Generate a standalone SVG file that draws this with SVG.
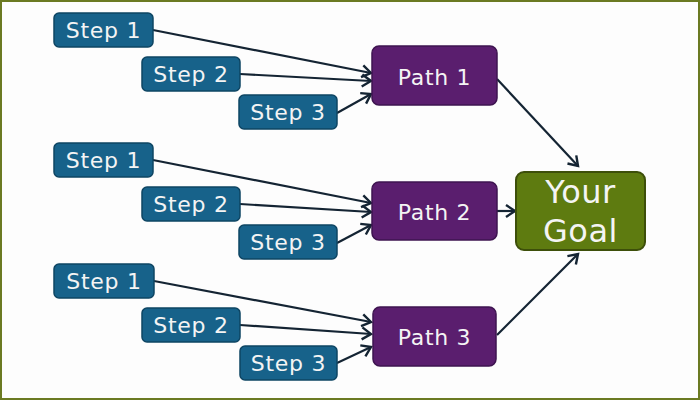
<svg xmlns="http://www.w3.org/2000/svg" width="700" height="400" viewBox="0 0 700 400">
<defs>
<marker id="ah" markerUnits="userSpaceOnUse" markerWidth="16" markerHeight="16" refX="13" refY="8" orient="auto">
<polyline points="4,2 13,8 4,14" fill="none" stroke="#142433" stroke-width="2.4" stroke-linejoin="miter"/>
</marker>
<style>
.step rect{fill:#17628a;stroke:#0e4563;stroke-width:1.5}
.path rect{fill:#5a1e6e;stroke:#3e1450;stroke-width:1.5}
.goal rect{fill:#5e7b10;stroke:#3d4f0a;stroke-width:2}
text{font-family:"DejaVu Sans","Verdana",sans-serif;fill:#f4f4f4;text-anchor:middle}
.step text,.path text{font-size:22px;letter-spacing:0.7px}
.goal text{font-size:32px;letter-spacing:0.5px}
#connectors line{stroke:#142433;stroke-width:2.2;marker-end:url(#ah)}
</style>
</defs>
<rect x="0" y="0" width="700" height="400" fill="#fdfdfd"/>
<rect x="1" y="1" width="698" height="398" fill="none" stroke="#6b7a22" stroke-width="2"/>

<g id="connectors">
<line x1="153" y1="30" x2="371" y2="73"/>
<line x1="240" y1="74" x2="371" y2="81"/>
<line x1="337" y1="113" x2="371" y2="94"/>
<line x1="153" y1="160" x2="371" y2="203"/>
<line x1="240" y1="204" x2="371" y2="212"/>
<line x1="337" y1="243" x2="371" y2="225"/>
<line x1="154" y1="281" x2="371" y2="322"/>
<line x1="240" y1="325" x2="371" y2="334"/>
<line x1="337" y1="363" x2="371" y2="347"/>
<line x1="497" y1="79" x2="578" y2="166"/>
<line x1="497" y1="211" x2="515" y2="211"/>
<line x1="497" y1="335" x2="578" y2="254"/>
</g>

<g id="g1-step1" class="step"><rect x="54" y="13" width="99" height="34" rx="5"/><text x="103.5" y="38">Step 1</text></g>
<g id="g1-step2" class="step"><rect x="142" y="57" width="98" height="34" rx="5"/><text x="191" y="82">Step 2</text></g>
<g id="g1-step3" class="step"><rect x="239" y="95" width="98" height="34" rx="5"/><text x="288" y="120">Step 3</text></g>

<g id="g2-step1" class="step"><rect x="54" y="143" width="99" height="34" rx="5"/><text x="103.5" y="168">Step 1</text></g>
<g id="g2-step2" class="step"><rect x="142" y="187" width="98" height="34" rx="5"/><text x="191" y="212">Step 2</text></g>
<g id="g2-step3" class="step"><rect x="239" y="225" width="98" height="34" rx="5"/><text x="288" y="250">Step 3</text></g>

<g id="g3-step1" class="step"><rect x="54" y="264" width="100" height="34" rx="5"/><text x="104" y="289">Step 1</text></g>
<g id="g3-step2" class="step"><rect x="142" y="308" width="98" height="34" rx="5"/><text x="191" y="333">Step 2</text></g>
<g id="g3-step3" class="step"><rect x="240" y="346" width="97" height="34" rx="5"/><text x="288.5" y="371">Step 3</text></g>

<g id="path1" class="path"><rect x="372" y="46" width="125" height="59" rx="7"/><text x="434.5" y="85">Path 1</text></g>
<g id="path2" class="path"><rect x="372" y="182" width="125" height="58" rx="7"/><text x="434.5" y="220">Path 2</text></g>
<g id="path3" class="path"><rect x="373" y="307" width="123" height="59" rx="7"/><text x="434.5" y="345">Path 3</text></g>

<g id="goal" class="goal"><rect x="516" y="172" width="129" height="78" rx="8"/><text x="580.5" y="203">Your</text><text x="580.5" y="242">Goal</text></g>
</svg>
